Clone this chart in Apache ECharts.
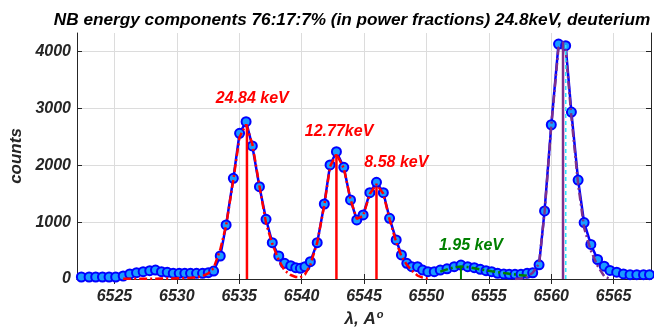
<!DOCTYPE html>
<html>
<head>
<meta charset="utf-8">
<script src="https://cdn.jsdelivr.net/npm/echarts@6/dist/echarts.min.js"></script>
<style>
  html, body { margin: 0; padding: 0; background: #fff; }
  #chart { width: 654px; height: 329px; }
</style>
</head>
<body>
<div id="chart"></div>
<script>
// measured spectrum (wavelength in Angstrom, counts)
const lambda = [
  6522.35, 6522.97, 6523.50, 6524.04, 6524.57, 6525.10, 6525.70, 6526.23, 6526.77, 6527.30,
  6527.83, 6528.29, 6528.77, 6529.23, 6529.71, 6530.19, 6530.64, 6531.10, 6531.58, 6532.06,
  6532.52, 6532.95, 6533.48, 6533.95, 6534.53, 6535.03, 6535.55, 6536.05, 6536.62, 6537.15,
  6537.65, 6538.17, 6538.64, 6539.13, 6539.53, 6539.90, 6540.27, 6540.70, 6541.25, 6541.82,
  6542.28, 6542.79, 6543.38, 6543.92, 6544.42, 6544.93, 6545.47, 6546.00, 6546.55, 6547.05,
  6547.58, 6548.00, 6548.43, 6548.83, 6549.29, 6549.70, 6550.12, 6550.63, 6551.11, 6551.65,
  6552.23, 6552.77, 6553.31, 6553.84, 6554.32, 6554.78, 6555.23, 6555.71, 6556.20, 6556.64,
  6557.10, 6557.58, 6558.07, 6558.52, 6559.03, 6559.47, 6560.01, 6560.59, 6561.16, 6561.62,
  6562.16, 6562.64, 6563.18, 6563.72, 6564.25, 6564.71, 6565.25, 6565.79, 6566.32, 6566.86,
  6567.40, 6567.88
];
const counts = [
  35, 35, 35, 35, 35, 35, 53, 88, 111, 129,
  146, 158, 129, 117, 100, 100, 100, 100, 100, 100,
  111, 140, 405, 951, 1773, 2565, 2770, 2342, 1625, 1051,
  639, 405, 276, 234, 199, 188, 217, 305, 639, 1320,
  2007, 2241, 1966, 1391, 1039, 1127, 1519, 1702, 1519, 1069,
  687, 423, 276, 217, 217, 158, 129, 129, 158, 180,
  217, 246, 217, 199, 171, 146, 129, 100, 88, 83,
  83, 83, 100, 110, 250, 1199, 2715, 4135, 4107, 2938,
  1741, 993, 609, 343, 225, 150, 120, 90, 77, 77,
  77, 77
];

// fitted components, sampled on the same wavelengths starting at the given index
const redFitStart = 6;
const redFit = [
  5, 5, 5, 5,
  6, 6, 7, 8, 10, 12, 15, 20, 30, 50,
  100, 190, 520, 940, 1750, 2500, 2720, 2380, 1640, 980,
  620, 330, 150, 70, 35, 30, 80, 250, 640, 1300,
  1980, 2200, 1950, 1400, 1060, 1110, 1500, 1670, 1500, 1050,
  650, 400, 250, 150, 60, 25, 5
];
const greenFitStart = 58;
const greenFit = [130, 170, 205, 220, 210, 190, 170, 155, 138, 120, 105, 92, 80, 68, 55];
const purpleFitStart = 70;
const purpleFit = [0, 8, 35, 110, 270, 1170, 2700, 4080, 4060, 2850, 1670, 900, 500, 230, 50, 0];

// component positions (vertical lines)
const redLineLambda = [6535.62, 6542.79, 6546.0];
const redLineHeight = [2720, 2200, 1630];
const greenLineLambda = 6552.77;
const greenLineHeight = 217;
const purpleLineLambda = 6560.95;
const purpleLineHeight = 4180;
const cyanLineLambda = 6561.17;
const cyanLineHeight = 4120;

// energy labels
const tagText = ['24.84 keV', '12.77keV', '8.58 keV', '1.95 keV'];
const tagLambda = [6536.05, 6543.0, 6547.59, 6553.57];
const tagCounts = [3181, 2593, 2055, 581];
const tagColor = ['#ff0000', '#ff0000', '#ff0000', '#008000'];

const xTicks = [6525, 6530, 6535, 6540, 6545, 6550, 6555, 6560, 6565];
const yTicks = [0, 1000, 2000, 3000, 4000];

const FONT = '"Liberation Sans", Arial, sans-serif';
const AXIS_COLOR = '#262626';
const DASH_DOT = [8, 3, 2, 3];

const chart = echarts.init(document.getElementById('chart'), null, { renderer: 'canvas' });

const fitData = (start, vals) => vals.map((v, i) => [lambda[start + i], v]);
const vline = (x, h) => [[x, 0], [x, h]];

const tickAxisX = {
  type: 'value', min: 6522, max: 6568,
  axisLine: { show: true, lineStyle: { color: AXIS_COLOR, width: 1 } },
  axisTick: { show: true, inside: true, length: 5, customValues: xTicks, lineStyle: { color: AXIS_COLOR } }
};
const tickAxisY = {
  type: 'value', min: 0, max: 4330,
  axisLine: { show: true, lineStyle: { color: AXIS_COLOR, width: 1 } },
  axisTick: { show: true, inside: true, length: 5, customValues: yTicks, lineStyle: { color: AXIS_COLOR } }
};
const labelStyle = {
  fontFamily: FONT, fontSize: 16, fontWeight: 'bold', fontStyle: 'italic', color: AXIS_COLOR,
  formatter: v => String(v)
};

const series = [
  {
    type: 'line', name: 'data',
    data: lambda.map((x, i) => [x, counts[i]]),
    symbol: 'circle', symbolSize: 9,
    lineStyle: { color: '#0000ff', width: 2.5 },
    itemStyle: { color: '#1a9bff', borderColor: '#0000ff', borderWidth: 2 },
    z: 2
  },
  {
    type: 'line', data: fitData(redFitStart, redFit), showSymbol: false,
    lineStyle: { color: '#ff0000', width: 2.5, type: DASH_DOT }, z: 3
  },
  {
    type: 'line', data: fitData(greenFitStart, greenFit), showSymbol: false,
    lineStyle: { color: '#008000', width: 2.5, type: DASH_DOT }, z: 3
  },
  {
    type: 'line', data: fitData(purpleFitStart, purpleFit), showSymbol: false,
    lineStyle: { color: '#7e2f8e', width: 2.5, type: DASH_DOT }, z: 3
  }
];

redLineLambda.forEach((x, i) => {
  series.push({
    type: 'line', data: vline(x, redLineHeight[i]), showSymbol: false,
    lineStyle: { color: '#ff0000', width: 2.5 }, z: 4
  });
});
series.push({
  type: 'line', data: vline(greenLineLambda, greenLineHeight), showSymbol: false,
  lineStyle: { color: '#008000', width: 2 }, z: 4
});
series.push({
  type: 'line', data: vline(purpleLineLambda, purpleLineHeight), showSymbol: false,
  lineStyle: { color: '#7e2f8e', width: 2.5 }, z: 4
});
series.push({
  type: 'line', data: vline(cyanLineLambda, cyanLineHeight), showSymbol: false,
  lineStyle: { color: '#2ee6ff', width: 1.5, type: [4, 3] }, z: 4
});
series.push({
  type: 'scatter', symbol: 'rect', symbolSize: 1,
  itemStyle: { color: 'transparent', opacity: 1 },
  data: tagText.map((t, i) => ({
    value: [tagLambda[i], tagCounts[i]],
    label: { formatter: t, color: tagColor[i] }
  })),
  label: { show: true, position: 'inside', opacity: 1, fontFamily: FONT, fontSize: 16, fontWeight: 'bold', fontStyle: 'italic' },
  z: 5
});

chart.setOption({
  animation: false,
  backgroundColor: '#ffffff',
  title: {
    text: 'NB energy components 76:17:7% (in power fractions) 24.8keV, deuterium',
    left: 347, top: 7, textAlign: 'center',
    textStyle: { fontFamily: FONT, fontSize: 17.2, fontWeight: 'bold', fontStyle: 'italic', color: '#000' }
  },
  grid: { left: 77, right: 3, top: 33, bottom: 50, containLabel: false, outerBoundsMode: 'none' },
  xAxis: [
    Object.assign({}, tickAxisX, {
      position: 'bottom',
      axisLabel: Object.assign({ customValues: xTicks, margin: 10 }, labelStyle),
      splitLine: { show: true, lineStyle: { color: '#dcdcdc', width: 1 } },
      name: '{a|λ, A}{s|o}', nameLocation: 'middle', nameGap: 28,
      nameTextStyle: {
        rich: {
          a: { fontFamily: FONT, fontSize: 17, fontWeight: 'bold', fontStyle: 'italic', color: AXIS_COLOR },
          s: { fontFamily: FONT, fontSize: 11, fontWeight: 'bold', fontStyle: 'italic', color: AXIS_COLOR, verticalAlign: 'top', padding: [0, 0, 8, 1] }
        }
      }
    }),
    Object.assign({}, tickAxisX, {
      position: 'top', axisLabel: { show: false }, splitLine: { show: false }
    })
  ],
  yAxis: [
    Object.assign({}, tickAxisY, {
      position: 'left',
      axisLabel: Object.assign({ customValues: yTicks, margin: 6 }, labelStyle),
      splitLine: { show: true, lineStyle: { color: '#dcdcdc', width: 1 } },
      name: 'counts', nameLocation: 'middle', nameGap: 48, nameRotate: 90,
      nameTextStyle: { fontFamily: FONT, fontSize: 17, fontWeight: 'bold', fontStyle: 'italic', color: AXIS_COLOR }
    }),
    Object.assign({}, tickAxisY, {
      position: 'right', axisLabel: { show: false }, splitLine: { show: false }
    })
  ],
  series: series
});
</script>
</body>
</html>
